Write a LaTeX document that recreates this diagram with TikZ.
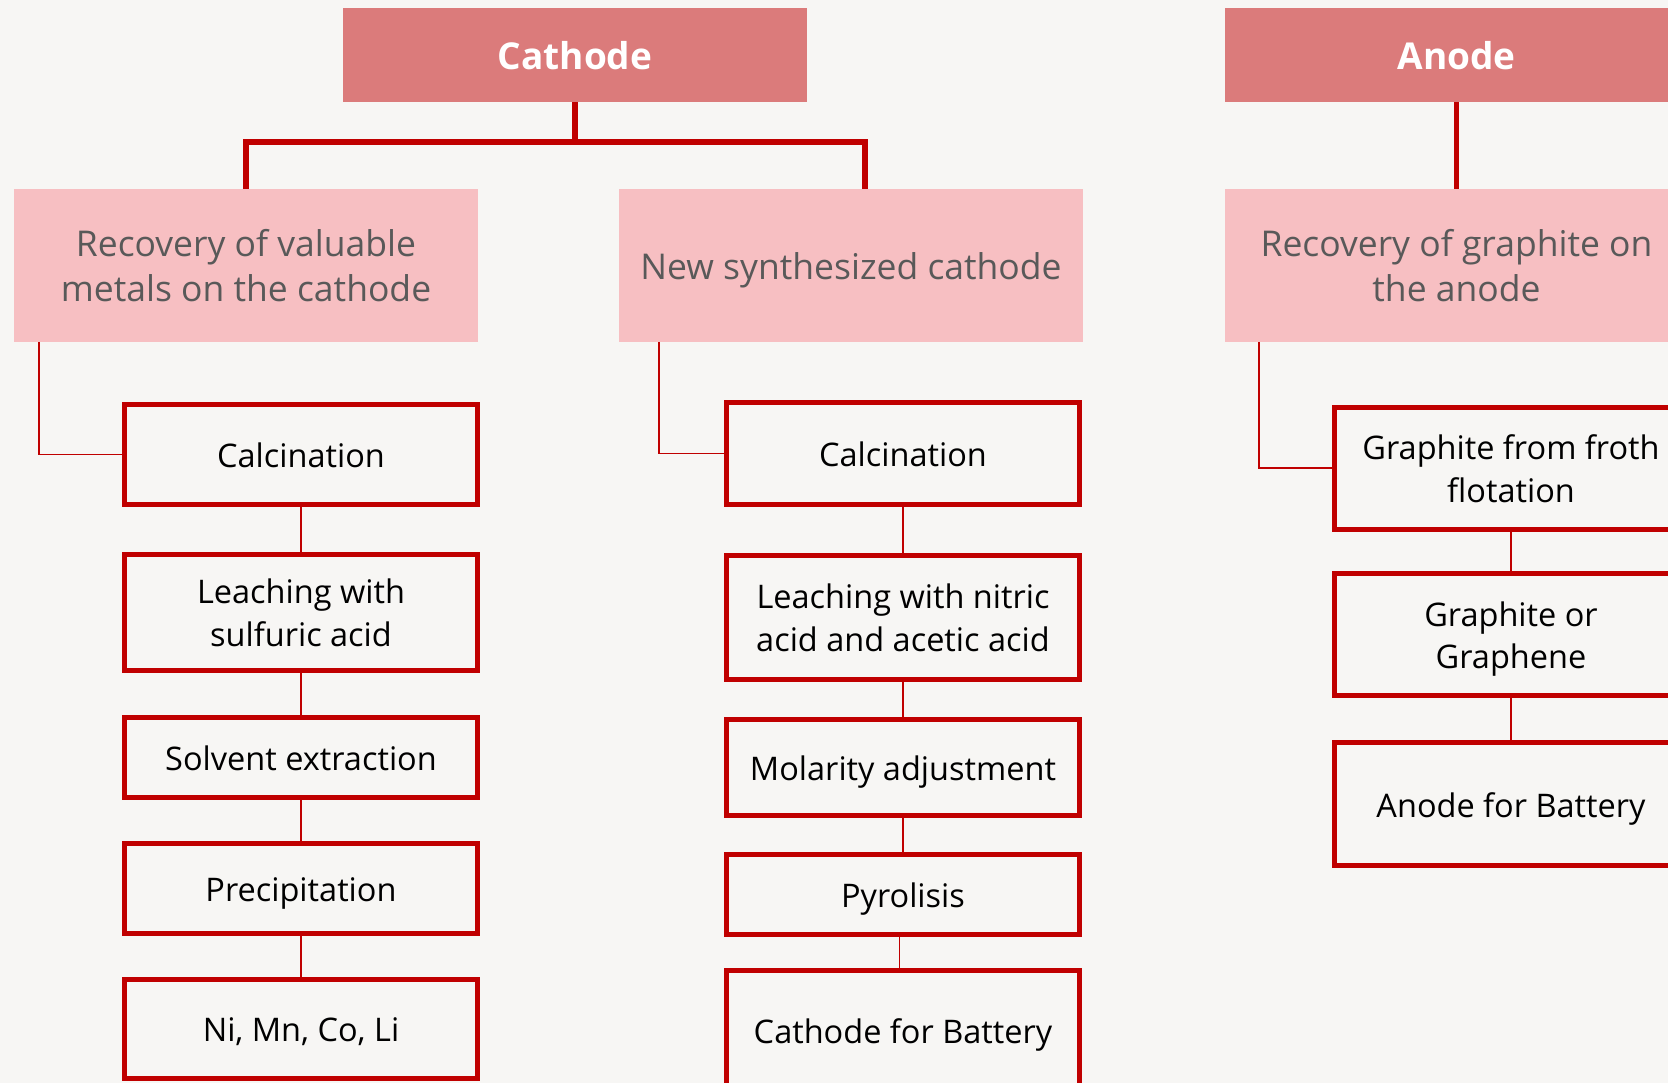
\documentclass[tikz,border=0pt]{standalone}
\usepackage{fontspec}
\setmainfont{Open Sans}
\usetikzlibrary{calc}
\definecolor{paper}{HTML}{F7F6F4}
\definecolor{hdr}{HTML}{DB7B7B}
\definecolor{sub}{HTML}{F7BFC2}
\definecolor{edge}{HTML}{C00000}
\definecolor{subtext}{HTML}{595959}

% fixed line boxes so that text sits the same with or without descenders
\newcommand\hdrstrut{\rule[-10pt]{0pt}{50pt}}
\newcommand\topicstrut{\rule[-9pt]{0pt}{46pt}}
\newcommand\stagestrut{\rule[-8pt]{0pt}{42.4pt}}

\begin{document}
\begin{tikzpicture}[x=1pt,y=-1pt,
  header/.style={fill=hdr, text=white, font=\fontsize{37}{44}\selectfont\bfseries,
    minimum width=463.7pt, minimum height=93.7pt, inner sep=0pt,
    execute at end node=\hdrstrut},
  topic/.style={fill=sub, text=subtext, font=\fontsize{35.5}{44.7}\selectfont, align=center,
    minimum width=464pt, minimum height=152.7pt, inner sep=0pt,
    execute at end node=\topicstrut},
  stage/.style={draw=edge, line width=5pt, fill=paper, text=black,
    font=\fontsize{32.5}{42.5}\selectfont, align=center, minimum width=353.5pt, inner sep=0pt,
    execute at end node=\stagestrut},
  trunk/.style={draw=edge, line width=5.5pt},
  link/.style={draw=edge, line width=1.6pt},
]
% page and background
\useasboundingbox (0,0) rectangle (1668,1083);
\fill[paper] (0,0) rectangle (1668,1083);
\clip (0,0) rectangle (1668,1083);

% top-level headers
\node[header] (cat) at (575,55) {Cathode};
\node[header] (ano) at (1456.5,55) {Anode};

% second-level topics
\node[topic] (rL) at (246,265.3) {\topicstrut Recovery of valuable\\metals on the cathode};
\node[topic] (rM) at (851,265.3) {New synthesized cathode};
\node[topic] (rA) at (1456.5,265.3) {\topicstrut Recovery of graphite on\\the anode};

% trunk connectors
\coordinate (bus) at (575,142);
\draw[trunk] (cat.south) -- (bus);
\draw[trunk] (rL.north) |- (bus) -| ([xshift=14pt]rM.north);
\draw[trunk] (ano.south) -- (rA.north);

% metal recovery chain
\node[stage, minimum height=100.5pt] (cL1) at (301,454.5) {Calcination};
\node[stage, minimum height=116pt]   (cL2) at (301,612) {\stagestrut Leaching with\\sulfuric acid};
\node[stage, minimum height=80pt]    (cL3) at (301,757) {Solvent extraction};
\node[stage, minimum height=90pt]    (cL4) at (301,888) {Precipitation};
\node[stage, minimum height=99pt]    (cL5) at (301,1028.5) {Ni, Mn, Co, Li};

% cathode synthesis chain
\node[stage, minimum height=102pt]   (cM1) at (903,453.5) {Calcination};
\node[stage, minimum height=124pt]   (cM2) at (903,617) {\stagestrut Leaching with nitric\\acid and acetic acid};
\node[stage, minimum height=96.5pt]  (cM3) at (903,767.5) {Molarity adjustment};
\node[stage, minimum height=80pt]    (cM4) at (903,894.4) {Pyrolisis};
\node[stage, minimum height=120pt]   (cM5) at (903,1030) {Cathode for Battery};

% graphite chain
\node[stage, minimum height=122pt]   (cA1) at (1511,468) {\stagestrut Graphite from froth\\flotation};
\node[stage, minimum height=122.5pt] (cA2) at (1511,634.5) {\stagestrut Graphite or\\Graphene};
\node[stage, minimum height=123.5pt] (cA3) at (1511,804) {Anode for Battery};

% elbow links from topics to first stages
\draw[link] ([xshift=25pt]rL.south west) |- (cL1.west);
\draw[link] ([xshift=40pt]rM.south west) |- (cM1.west);
\draw[link] ([xshift=34.5pt]rA.south west) |- (cA1.west);

% links between stages
\draw[link] (cL1) -- (cL2);
\draw[link] (cL2) -- (cL3);
\draw[link] (cL3) -- (cL4);
\draw[link] (cL4) -- (cL5);
\draw[link] (cM1) -- (cM2);
\draw[link] (cM2) -- (cM3);
\draw[link] (cM3) -- (cM4);
\draw[link] ([xshift=-3.5pt]cM4.south) -- ([xshift=-3.5pt]cM5.north);
\draw[link] (cA1) -- (cA2);
\draw[link] (cA2) -- (cA3);
\end{tikzpicture}
\end{document}
